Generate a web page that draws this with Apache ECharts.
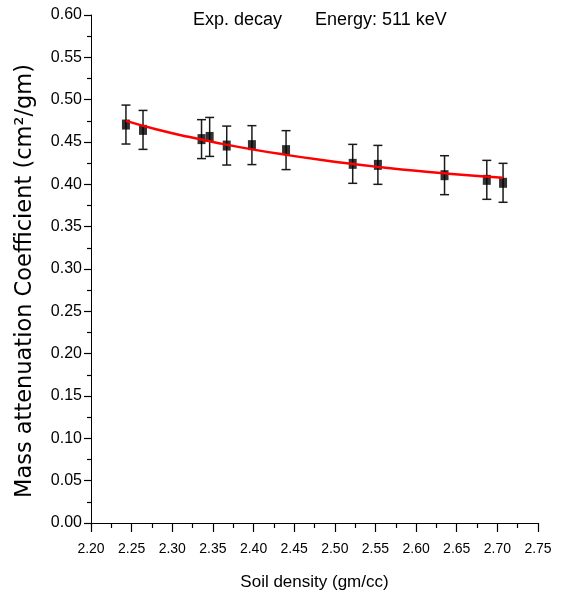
<!DOCTYPE html>
<html>
<head>
<meta charset="utf-8">
<script src="https://cdn.jsdelivr.net/npm/echarts@6/dist/echarts.min.js"></script>
<style>
  html, body { margin: 0; padding: 0; background: #fff; }
  #chart { width: 581px; height: 602px; }
</style>
</head>
<body>
<div id="chart"></div>
<script>
// Measured mass attenuation coefficient vs. soil density (511 keV)
const density = [2.243, 2.264, 2.336, 2.346, 2.367, 2.398, 2.440, 2.522, 2.553, 2.635, 2.687, 2.707];
const mac     = [0.4706, 0.4643, 0.4534, 0.4560, 0.4458, 0.4463, 0.4404, 0.4242, 0.4230, 0.4108, 0.4053, 0.4018];
const macErr  = [0.023, 0.023, 0.023, 0.023, 0.023, 0.023, 0.023, 0.023, 0.023, 0.023, 0.023, 0.023];

// Exponential-decay fit curve, sampled
const fitDensity = [2.243, 2.28, 2.32, 2.36, 2.40, 2.44, 2.48, 2.52, 2.56, 2.60, 2.64, 2.68, 2.707];
const fitMac     = [0.4750, 0.4651, 0.4561, 0.4481, 0.4410, 0.4348, 0.4292, 0.4242, 0.4199, 0.4160, 0.4126, 0.4095, 0.4077];

const titleLeft  = 'Exp. decay';
const titleRight = 'Energy: 511 keV';
const xName = 'Soil density (gm/cc)';
const yName = 'Mass attenuation Coefficient (cm\u00B2/gm)';

const sans = '"Liberation Sans", Arial, sans-serif';

const points = density.map((d, i) => [d, mac[i]]);
const bars = density.map((d, i) => [d, mac[i] - macErr[i], mac[i] + macErr[i]]);
const fit = fitDensity.map((d, i) => [d, fitMac[i]]);

const chart = echarts.init(document.getElementById('chart'), null, { renderer: 'canvas' });

chart.setOption({
  backgroundColor: '#fff',
  animation: false,
  grid: { left: 91, right: 43, top: 15, bottom: 79, containLabel: false, outerBoundsMode: 'none' },
  xAxis: {
    type: 'value',
    min: 2.2, max: 2.75, interval: 0.05,
    name: xName,
    nameLocation: 'middle',
    nameGap: 51,
    nameTextStyle: { fontFamily: sans, fontSize: 17, color: '#000' },
    axisLine: { show: true, lineStyle: { color: '#000', width: 1 } },
    axisTick: { show: true, inside: false, length: 9, lineStyle: { color: '#000', width: 1.2 } },
    minorTick: { show: true, splitNumber: 2, length: 5, lineStyle: { color: '#000', width: 1.2 } },
    axisLabel: { margin: 19, fontFamily: sans, fontSize: 14, color: '#000',
      formatter: v => v.toFixed(2) },
    splitLine: { show: false }
  },
  yAxis: {
    type: 'value',
    min: 0, max: 0.6, interval: 0.05,
    axisLine: { show: true, lineStyle: { color: '#000', width: 1 } },
    axisTick: { show: true, inside: false, length: 7, lineStyle: { color: '#000', width: 1.2 } },
    minorTick: { show: true, splitNumber: 2, length: 4, lineStyle: { color: '#000', width: 1.2 } },
    axisLabel: { margin: 9, fontFamily: sans, fontSize: 16, color: '#000',
      formatter: v => v.toFixed(2) },
    splitLine: { show: false }
  },
  graphic: [
    { type: 'text', x: 193, y: 20, z: 10,
      style: { text: titleLeft, font: '18px ' + sans, fill: '#000', textAlign: 'left', textVerticalAlign: 'middle' } },
    { type: 'text', x: 315, y: 20, z: 10,
      style: { text: titleRight, font: '18px ' + sans, fill: '#000', textAlign: 'left', textVerticalAlign: 'middle' } },
    { type: 'text', x: 25, y: 281, rotation: Math.PI / 2, z: 10,
      style: { text: yName, font: '22.5px "DejaVu Sans", sans-serif', fill: '#000', textAlign: 'center', textVerticalAlign: 'middle' } }
  ],
  series: [
    {
      type: 'custom',
      name: 'error',
      data: bars,
      z: 2,
      renderItem: function (params, api) {
        const x = api.value(0);
        const lo = api.coord([x, api.value(1)]);
        const hi = api.coord([x, api.value(2)]);
        const cap = 4.5;
        const style = { stroke: '#1a1a1a', lineWidth: 1.5 };
        return {
          type: 'group',
          children: [
            { type: 'line', shape: { x1: lo[0], y1: lo[1], x2: hi[0], y2: hi[1] }, style },
            { type: 'line', shape: { x1: lo[0] - cap, y1: lo[1], x2: lo[0] + cap, y2: lo[1] }, style },
            { type: 'line', shape: { x1: hi[0] - cap, y1: hi[1], x2: hi[0] + cap, y2: hi[1] }, style }
          ]
        };
      }
    },
    {
      type: 'scatter',
      name: 'data',
      data: points,
      symbol: 'rect',
      symbolSize: [8, 10],
      itemStyle: { color: '#000' },
      z: 3
    },
    {
      type: 'line',
      name: 'fit',
      data: fit,
      smooth: true,
      showSymbol: false,
      lineStyle: { color: '#ff0000', width: 2.5 },
      z: 4
    }
  ]
});
</script>
</body>
</html>
